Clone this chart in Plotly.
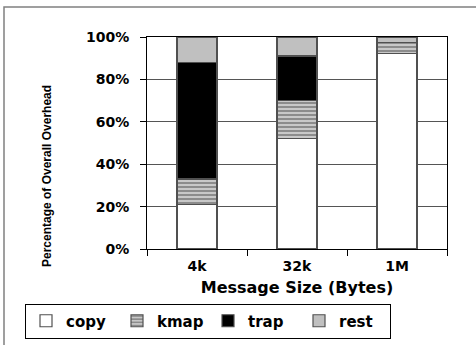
import plotly.graph_objects as go

categories = ["4k", "32k", "1M"]
copy_vals = [21, 52, 92.3]
kmap_vals = [12, 18, 5]
trap_vals = [55, 21, 0]
rest_vals = [12, 9, 2.7]
y_ticks = [0, 20, 40, 60, 80, 100]
y_tick_text = ["0%", "20%", "40%", "60%", "80%", "100%"]

W, H = 476, 345
L, R, T, B = 147, 29, 37, 96
pw, ph = W - L - R, H - T - B

def px_x(x):
    return (x - L) / pw

def px_y(y):
    return (H - B - y) / ph

line = dict(color="#505050", width=1.2)
fig = go.Figure()
fig.add_bar(x=categories, y=copy_vals, name="copy", marker=dict(color="white", line=line))
fig.add_bar(x=categories, y=kmap_vals, name="kmap",
            marker=dict(color="#c8c8c8", line=line,
                        pattern=dict(shape="-", fgcolor="#303030", bgcolor="#c8c8c8", size=4, solidity=0.4)))
fig.add_bar(x=categories, y=trap_vals, name="trap", marker=dict(color="black", line=line))
fig.add_bar(x=categories, y=rest_vals, name="rest", marker=dict(color="#c0c0c0", line=line))

wide = "DejaVu Sans, Liberation Sans, sans-serif"
fig.update_layout(
    width=W, height=H,
    margin=dict(l=L, r=R, t=T, b=B, autoexpand=False),
    barmode="stack", bargap=0.6,
    plot_bgcolor="white", paper_bgcolor="white",
    font=dict(family=wide, color="black"),
    showlegend=True,
    legend=dict(orientation="h", x=px_x(25), y=px_y(321), xanchor="left", yanchor="middle",
                bordercolor="black", borderwidth=1, traceorder="normal",
                font=dict(size=15, family=wide, weight="bold"),
                itemwidth=30, tracegroupgap=0, entrywidth=46,
                itemclick=False),
    xaxis=dict(type="category", showline=True, linecolor="black", linewidth=1, mirror=True,
               ticks="outside", tickson="boundaries", ticklen=6, tickcolor="black",
               ticklabelstandoff=4,
               tickfont=dict(size=14, weight="bold"),
               title=dict(text="Message Size (Bytes)", font=dict(size=16, weight="bold"), standoff=9),
               showgrid=False),
    yaxis=dict(range=[0, 100], tickvals=y_ticks, ticktext=y_tick_text,
               showline=True, linecolor="black", linewidth=1, mirror=True,
               ticks="outside", ticklen=6, tickcolor="black", ticklabelstandoff=8,
               tickfont=dict(size=14, weight="bold"),
               showgrid=True, gridcolor="#555555", gridwidth=1, zeroline=False),
    annotations=[dict(text="Percentage of Overall Overhead", textangle=-90,
                      xref="paper", yref="paper", x=px_x(47), y=px_y(176),
                      xanchor="center", yanchor="middle", showarrow=False,
                      font=dict(size=12, family="Liberation Sans, Arial, sans-serif",
                                weight="bold"))],
    shapes=[dict(type="rect", xref="paper", yref="paper",
                 x0=px_x(4), x1=px_x(490), y0=px_y(7), y1=px_y(360),
                 line=dict(color="#808080", width=1.5), layer="below")],
)
fig.write_html("out.html", config={"displayModeBar": False},
               post_script="document.body.style.margin='0px';")
